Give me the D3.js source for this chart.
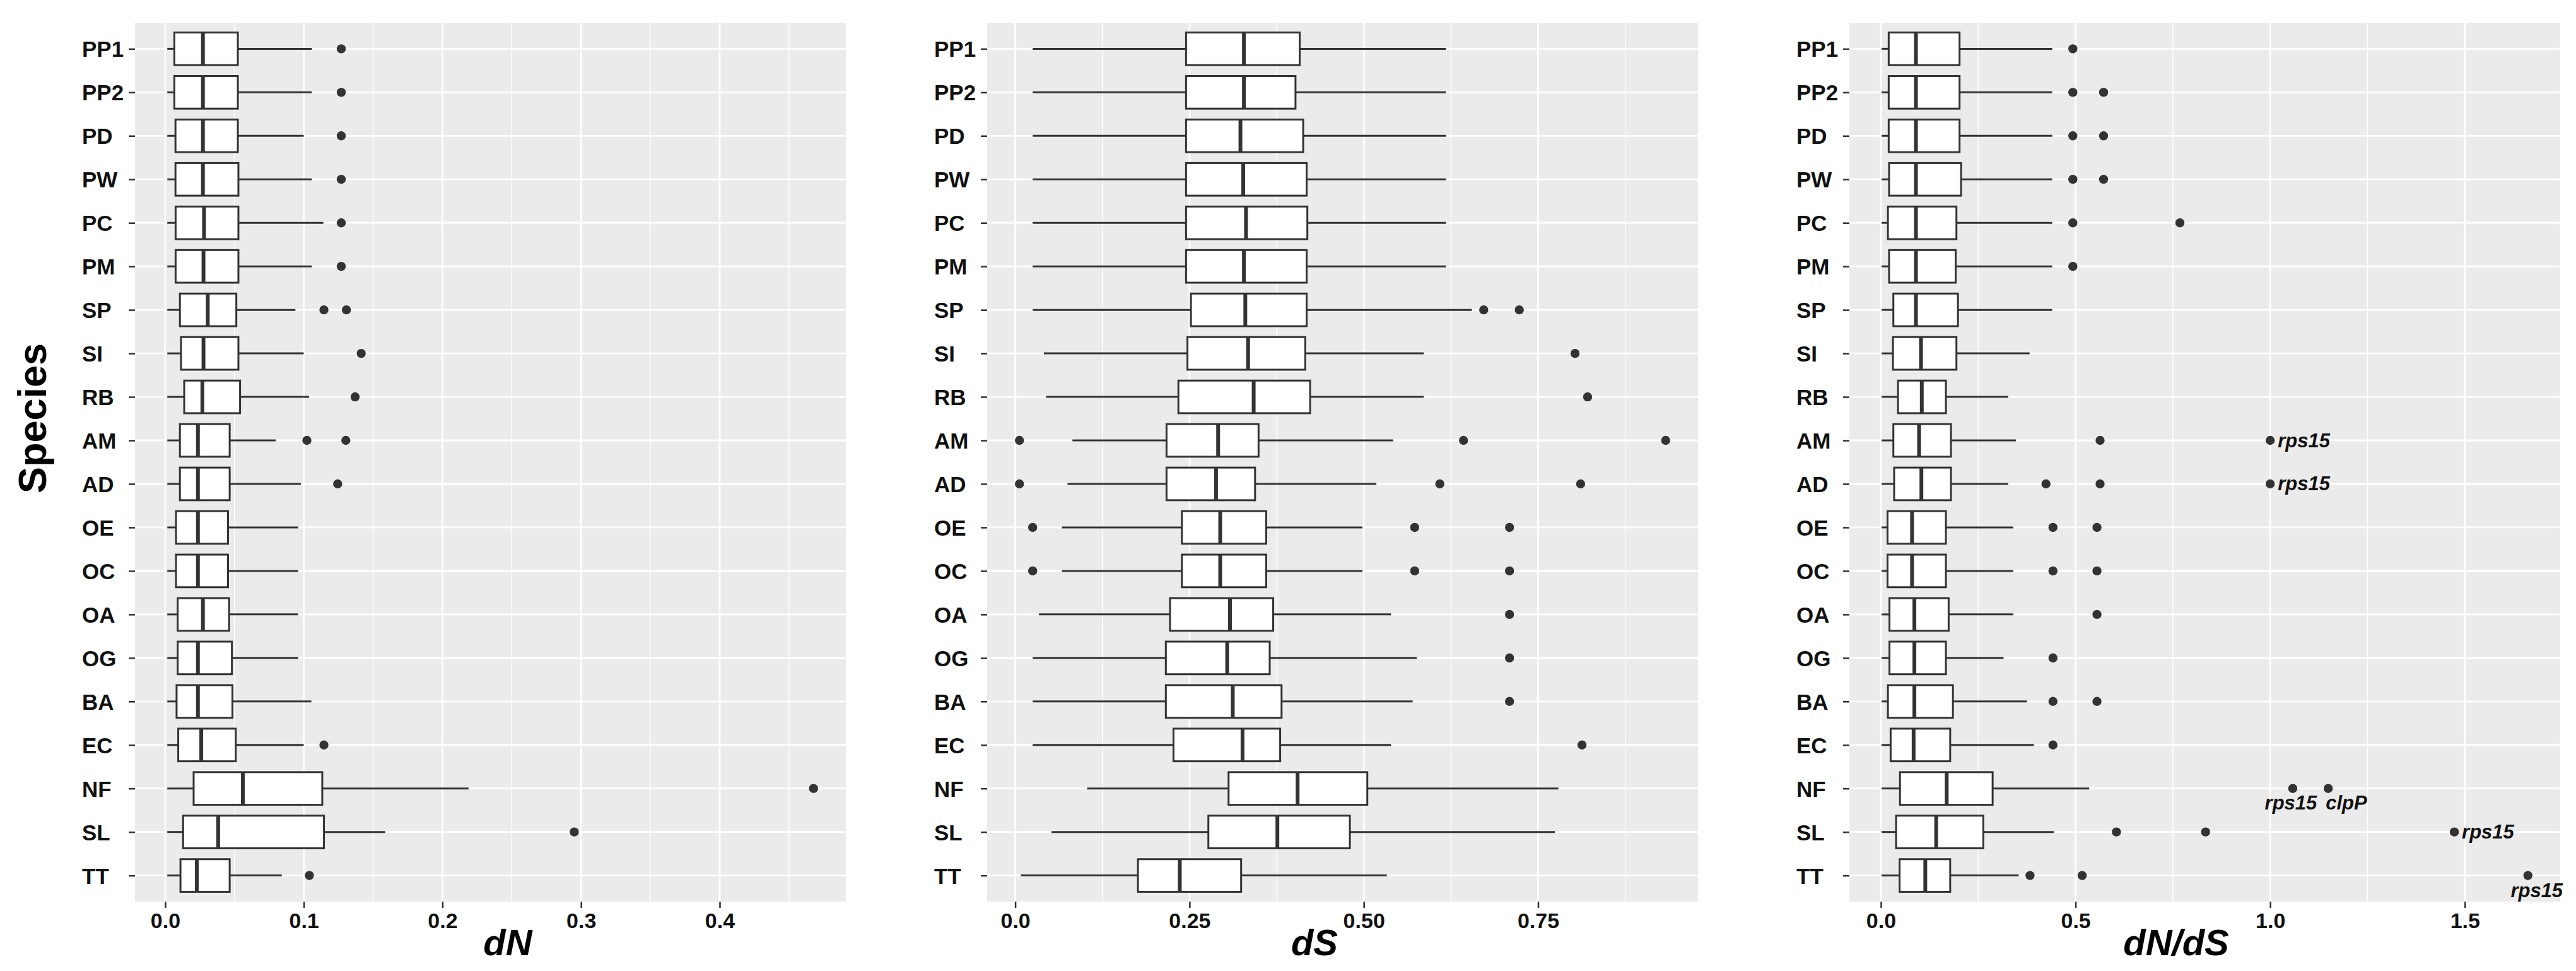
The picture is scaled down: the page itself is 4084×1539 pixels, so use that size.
<!DOCTYPE html>
<html>
<head>
<meta charset="utf-8">
<script src="https://cdn.jsdelivr.net/npm/d3@7"></script>
<style>
  html, body { margin: 0; padding: 0; background: #fff; }
  svg { display: block; }
  text { font-family: "Liberation Sans", Arial, Helvetica, sans-serif; }
</style>
</head>
<body>
<svg id="chart"></svg>
<script>
/* ════════════════════════════════════════
   DATA  (box stats)
════════════════════════════════════════ */
const SPECIES = ['PP1','PP2','PD','PW','PC','PM','SP','SI','RB','AM','AD','OE','OC','OA','OG','BA','EC','NF','SL','TT'];

// dN
const dnLow  = [0.0015,0.0015,0.0015,0.0015,0.0015,0.0015,0.0015,0.0015,0.0015,0.0015,0.0015,0.0015,0.0015,0.0015,0.0015,0.0015,0.0015,0.0015,0.0015,0.0015];
const dnQ1   = [0.0066,0.0066,0.0074,0.0074,0.0075,0.0075,0.0106,0.0114,0.0137,0.0106,0.0106,0.0078,0.0078,0.0090,0.0090,0.0082,0.0094,0.0205,0.0129,0.0110];
const dnMed  = [0.0272,0.0272,0.0272,0.0272,0.0280,0.0276,0.0307,0.0276,0.0268,0.0236,0.0236,0.0236,0.0236,0.0272,0.0236,0.0236,0.0260,0.0560,0.0382,0.0228];
const dnQ3   = [0.0524,0.0524,0.0524,0.0528,0.0528,0.0528,0.0513,0.0528,0.0540,0.0465,0.0465,0.0453,0.0453,0.0461,0.0481,0.0485,0.0509,0.1133,0.1145,0.0465];
const dnHigh = [0.1058,0.1058,0.0999,0.1058,0.1141,0.1058,0.0939,0.0999,0.1038,0.0797,0.0979,0.0959,0.0959,0.0959,0.0959,0.1054,0.0999,0.2188,0.1587,0.0841];
const dnOut  = [[0.127],[0.127],[0.127],[0.127],[0.127],[0.127],[0.1145,0.1307],[0.1414],[0.137],[0.1022,0.1303],[0.1244],[],[],[],[],[],[0.1145],[0.4677],[0.2951],[0.1040]];
const dnTicks = [0, 0.1, 0.2, 0.3, 0.4];
const dnTickLabels = ['0.0','0.1','0.2','0.3','0.4'];

// dS
const dsLow  = [0.025,0.025,0.025,0.025,0.025,0.025,0.025,0.041,0.044,0.082,0.075,0.067,0.067,0.034,0.025,0.025,0.025,0.103,0.052,0.008];
const dsQ1   = [0.245,0.245,0.245,0.245,0.245,0.245,0.252,0.247,0.234,0.217,0.217,0.239,0.239,0.222,0.216,0.216,0.227,0.306,0.277,0.176];
const dsMed  = [0.328,0.328,0.323,0.327,0.331,0.328,0.330,0.334,0.342,0.291,0.288,0.294,0.294,0.308,0.304,0.312,0.326,0.405,0.376,0.236];
const dsQ3   = [0.408,0.402,0.413,0.418,0.419,0.418,0.418,0.416,0.423,0.349,0.344,0.360,0.360,0.370,0.365,0.382,0.380,0.505,0.480,0.324];
const dsHigh = [0.618,0.618,0.618,0.618,0.618,0.618,0.655,0.586,0.586,0.542,0.518,0.498,0.498,0.539,0.576,0.570,0.539,0.779,0.774,0.533];
const dsOut  = [[],[],[],[],[],[],[0.672,0.723],[0.803],[0.821],[0.006,0.643,0.933],[0.006,0.609,0.811],[0.025,0.573,0.709],[0.025,0.573,0.709],[0.709],[0.709],[0.709],[0.813],[],[],[]];
const dsTicks = [0, 0.25, 0.5, 0.75];
const dsTickLabels = ['0.0','0.25','0.50','0.75'];

// dN/dS
const rLow  = [0.002,0.002,0.002,0.002,0.002,0.002,0.002,0.002,0.002,0.002,0.002,0.002,0.002,0.002,0.002,0.002,0.002,0.002,0.002,0.002];
const rQ1   = [0.020,0.020,0.020,0.021,0.018,0.021,0.032,0.031,0.044,0.032,0.034,0.017,0.017,0.022,0.022,0.018,0.025,0.049,0.039,0.048];
const rMed  = [0.090,0.090,0.090,0.090,0.090,0.090,0.090,0.103,0.105,0.098,0.104,0.080,0.080,0.086,0.086,0.086,0.084,0.169,0.142,0.114];
const rQ3   = [0.202,0.202,0.202,0.206,0.194,0.192,0.198,0.194,0.167,0.180,0.180,0.167,0.167,0.174,0.167,0.185,0.178,0.287,0.263,0.178];
const rHigh = [0.440,0.440,0.440,0.440,0.440,0.440,0.440,0.382,0.327,0.347,0.327,0.340,0.340,0.340,0.315,0.375,0.393,0.535,0.444,0.354];
const rOut  = [[0.493],[0.493,0.572],[0.493,0.572],[0.493,0.572],[0.493,0.768],[0.493],[],[],[],[0.563,1.0],[0.424,0.563,1.0],[0.442,0.555],[0.442,0.555],[0.555],[0.442],[0.442,0.555],[0.442],[1.058,1.149],[0.605,0.834,1.473],[0.383,0.517,1.662]];
const rTicks = [0, 0.5, 1, 1.5];
const rTickLabels = ['0.0','0.5','1.0','1.5'];

// gene labels on the dN/dS outliers
const rLabelSpecies = ['AM','AD','NF','NF','SL','TT'];
const rLabelValues  = [1.0, 1.0, 1.058, 1.149, 1.473, 1.662];
const rLabelTexts   = ['rps15','rps15','rps15','clpP','rps15','rps15'];
const rLabelSides   = ['right','right','below','belowStart','right','belowEnd'];

/* ════════════════════════════════════════
   LAYOUT
════════════════════════════════════════ */
const W = 4084, H = 1539;
const TOP = 36, BOTTOM = 1429, PW = 1127;
const INK = '#333333';

const svg = d3.select('#chart').attr('width', W).attr('height', H)
  .attr('viewBox', `0 0 ${W} ${H}`);

const y = d3.scalePoint().domain(SPECIES).range([TOP, BOTTOM]).padding(0.6);
const boxH = y.step() * 0.75;

const panels = [
  { left: 214,  title: 'dN',    titleX: 805,  low: dnLow, q1: dnQ1, med: dnMed, q3: dnQ3, high: dnHigh, out: dnOut, ticks: dnTicks, tickLabels: dnTickLabels },
  { left: 1565, title: 'dS',    titleX: 2084, low: dsLow, q1: dsQ1, med: dsMed, q3: dsQ3, high: dsHigh, out: dsOut, ticks: dsTicks, tickLabels: dsTickLabels },
  { left: 2932, title: 'dN/dS', titleX: 3450, low: rLow,  q1: rQ1,  med: rMed,  q3: rQ3,  high: rHigh,  out: rOut,  ticks: rTicks,  tickLabels: rTickLabels,
    labels: rLabelTexts.map((t, i) => ({ sp: rLabelSpecies[i], v: rLabelValues[i], text: t, side: rLabelSides[i] })) },
];

panels.forEach(p => drawPanel(p));

// y-axis title (shared, left side)
svg.append('text')
  .attr('transform', 'translate(73,663) rotate(-90)')
  .attr('text-anchor', 'middle')
  .attr('font-size', 63).attr('font-weight', 700).attr('fill', '#000')
  .text('Species');

function drawPanel(p) {
  const rows = SPECIES.map((s, i) => ({
    sp: s, low: p.low[i], q1: p.q1[i], med: p.med[i], q3: p.q3[i], high: p.high[i], out: p.out[i]
  }));

  // ggplot-like 5% expansion around the data range
  const all = rows.flatMap(r => [r.low, r.high, ...r.out]);
  const [mn, mx] = d3.extent(all);
  const pad = (mx - mn) * 0.05;
  const x = d3.scaleLinear().domain([mn - pad, mx + pad]).range([p.left, p.left + PW]);

  const g = svg.append('g');

  // panel background
  g.append('rect')
    .attr('x', p.left).attr('y', TOP)
    .attr('width', PW).attr('height', BOTTOM - TOP)
    .attr('fill', '#EBEBEB');

  // minor + major vertical grid
  const step = p.ticks[1] - p.ticks[0];
  const [d0, d1] = x.domain();
  const minors = d3.range(p.ticks[0] - step / 2, d1, step).filter(v => v > d0 && v < d1);
  g.selectAll('.minor').data(minors).join('line')
    .attr('x1', d => x(d)).attr('x2', d => x(d))
    .attr('y1', TOP).attr('y2', BOTTOM)
    .attr('stroke', '#fff').attr('stroke-width', 1.4);
  g.selectAll('.major').data(p.ticks).join('line')
    .attr('x1', d => x(d)).attr('x2', d => x(d))
    .attr('y1', TOP).attr('y2', BOTTOM)
    .attr('stroke', '#fff').attr('stroke-width', 2.8);
  g.selectAll('.hgrid').data(SPECIES).join('line')
    .attr('x1', p.left).attr('x2', p.left + PW)
    .attr('y1', d => y(d)).attr('y2', d => y(d))
    .attr('stroke', '#fff').attr('stroke-width', 2.8);

  // whiskers
  const box = g.selectAll('.box').data(rows).join('g');
  box.append('line')
    .attr('x1', d => x(d.low)).attr('x2', d => x(d.q1))
    .attr('y1', d => y(d.sp)).attr('y2', d => y(d.sp))
    .attr('stroke', INK).attr('stroke-width', 3);
  box.append('line')
    .attr('x1', d => x(d.q3)).attr('x2', d => x(d.high))
    .attr('y1', d => y(d.sp)).attr('y2', d => y(d.sp))
    .attr('stroke', INK).attr('stroke-width', 3);

  // boxes + medians
  box.append('rect')
    .attr('x', d => x(d.q1)).attr('width', d => x(d.q3) - x(d.q1))
    .attr('y', d => y(d.sp) - boxH / 2).attr('height', boxH)
    .attr('fill', '#fff').attr('stroke', INK).attr('stroke-width', 3);
  box.append('line')
    .attr('x1', d => x(d.med)).attr('x2', d => x(d.med))
    .attr('y1', d => y(d.sp) - boxH / 2).attr('y2', d => y(d.sp) + boxH / 2)
    .attr('stroke', INK).attr('stroke-width', 6);

  // outliers
  const pts = rows.flatMap(r => r.out.map(v => ({ sp: r.sp, v })));
  g.selectAll('.pt').data(pts).join('circle')
    .attr('cx', d => x(d.v)).attr('cy', d => y(d.sp)).attr('r', 7.2)
    .attr('fill', INK);

  // gene labels
  if (p.labels) {
    const lab = g.selectAll('.lab').data(p.labels).join('text')
      .attr('font-size', 31).attr('font-weight', 700).attr('font-style', 'italic')
      .attr('fill', '#111')
      .text(d => d.text);
    lab.each(function(d) {
      const t = d3.select(this);
      const cx = x(d.v), cy = y(d.sp);
      if (d.side === 'right') {
        t.attr('x', cx + 12).attr('y', cy).attr('dominant-baseline', 'central').attr('text-anchor', 'start');
      } else if (d.side === 'below') {
        t.attr('x', cx - 3).attr('y', cy + 33).attr('text-anchor', 'middle');
      } else if (d.side === 'belowStart') {
        t.attr('x', cx - 4).attr('y', cy + 33).attr('text-anchor', 'start');
      } else {
        t.attr('x', cx + 14).attr('y', cy + 34).attr('text-anchor', 'middle');
      }
    });
  }

  // x axis
  const xa = svg.append('g')
    .attr('transform', `translate(0,${BOTTOM})`)
    .call(d3.axisBottom(x).tickValues(p.ticks)
      .tickFormat((d, i) => p.tickLabels[i]).tickSize(10).tickPadding(8));
  xa.select('.domain').remove();
  xa.selectAll('line').attr('stroke', INK).attr('stroke-width', 2.5);
  xa.selectAll('text')
    .attr('font-size', 34).attr('font-weight', 700).attr('fill', '#111')
    .attr('font-family', '"Liberation Sans", Arial, sans-serif');

  // y axis (labels are left-aligned in the original)
  const ya = svg.append('g')
    .attr('transform', `translate(${p.left},0)`)
    .call(d3.axisLeft(y).tickSize(10).tickPadding(0));
  ya.select('.domain').remove();
  ya.selectAll('line').attr('stroke', INK).attr('stroke-width', 2.5);
  ya.selectAll('text')
    .attr('x', -84).attr('text-anchor', 'start').attr('dy', '0.36em')
    .attr('font-size', 35).attr('font-weight', 700).attr('fill', '#111')
    .attr('font-family', '"Liberation Sans", Arial, sans-serif');

  // x title
  svg.append('text')
    .attr('x', p.titleX).attr('y', 1514)
    .attr('text-anchor', 'middle')
    .attr('font-size', 58).attr('font-weight', 700).attr('font-style', 'italic')
    .attr('fill', '#000')
    .text(p.title);
}
</script>
</body>
</html>
